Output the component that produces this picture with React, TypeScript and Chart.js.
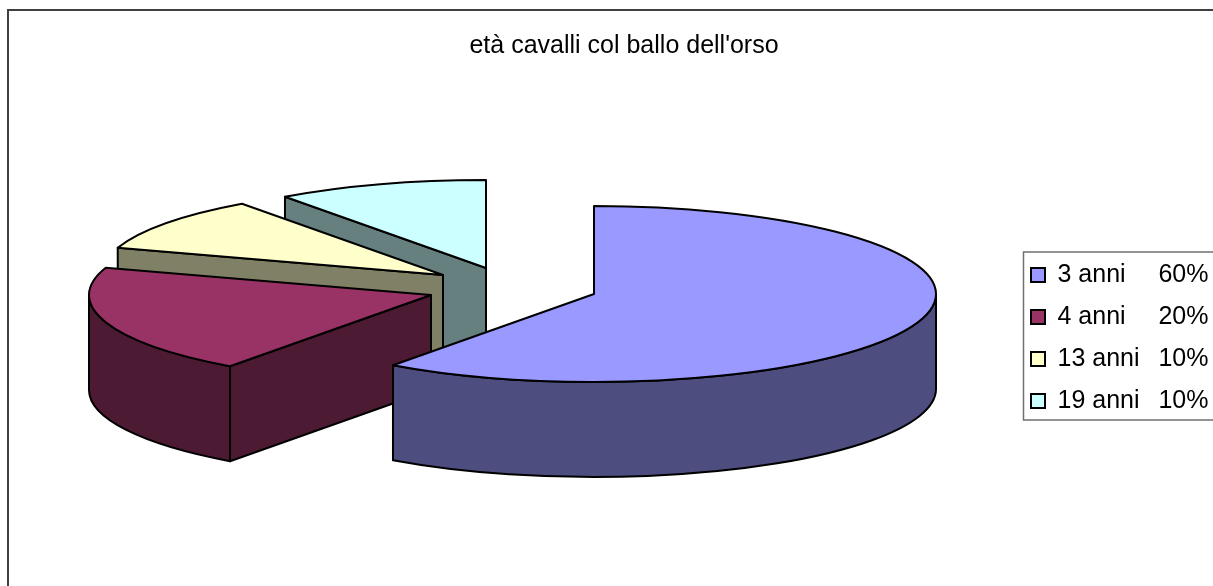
import React, { useEffect, useRef } from "react";
import { Chart, registerables } from "chart.js";

Chart.register(...registerables);

const TITLE = "età cavalli col ballo dell'orso";
const CATEGORIES = ["3 anni", "4 anni", "13 anni", "19 anni"];
const PERCENTS = [60, 20, 10, 10];
const LEGEND_GAPS = [4, 4, 2, 2];

const TOP_COLORS = ["#9999FF", "#993366", "#FFFFCC", "#CCFFFF"];
const WALL_COLORS = ["#4D4D80", "#4D1A33", "#808066", "#668080"];

const FONT = "'Liberation Sans', Arial, sans-serif";
const FONT_SIZE = 25;
const W = 1213;
const H = 586;

// 3D projection of the exploded pie
const RX = 342;
const RY = 88;
const DEPTH = 95;
const SLICE_CENTERS = [
  { x: 594, y: 294 },
  { x: 431, y: 295 },
  { x: 443, y: 275 },
  { x: 486, y: 268 },
];

const pie3d = {
  id: "pie3d",
  afterLayout(chart: any) {
    const t = chart.titleBlock;
    t.left = 9;
    t.right = 1239;
    t.top = 31;
    t.bottom = 61;
    const l = chart.legend;
    const pad = l.options.labels.padding;
    l.left = 1031 - pad;
    l.right = W + 40;
    l.top = 262.5 - pad;
    l.bottom = 440;
  },
  beforeDraw(chart: any) {
    const ctx = chart.ctx;
    ctx.save();
    ctx.fillStyle = "#fff";
    ctx.fillRect(0, 0, W, H);
    ctx.strokeStyle = "#404040";
    ctx.lineWidth = 2;
    ctx.strokeRect(8, 10, W + 40, H + 40);
    ctx.strokeStyle = "#707070";
    ctx.lineWidth = 1.5;
    ctx.strokeRect(1023.5, 252, W + 40 - 1023, 168);
    ctx.restore();
  },
  beforeDatasetDraw(chart: any) {
    const ctx = chart.ctx;
    const arcs = chart.getDatasetMeta(0).data;
    ctx.save();
    ctx.strokeStyle = "#000";
    ctx.lineWidth = 2;
    ctx.lineJoin = "round";
    const paint = (fill: string) => {
      ctx.fillStyle = fill;
      ctx.fill();
      ctx.stroke();
    };
    for (let i = arcs.length - 1; i >= 0; i--) {
      const { startAngle: s, endAngle: e } = arcs[i];
      const { x: cx, y: cy } = SLICE_CENTERS[i];
      const px = (a: number) => cx + RX * Math.cos(a);
      const py = (a: number) => cy + RY * Math.sin(a);
      const wall = WALL_COLORS[i];
      const face = (a: number) => {
        ctx.beginPath();
        ctx.moveTo(cx, cy);
        ctx.lineTo(px(a), py(a));
        ctx.lineTo(px(a), py(a) + DEPTH);
        ctx.lineTo(cx, cy + DEPTH);
        ctx.closePath();
        paint(wall);
      };
      if (Math.cos(s) < -1e-6) face(s);
      if (Math.cos(e) > 1e-6) face(e);
      const a0 = Math.max(s, 0);
      const a1 = Math.min(e, Math.PI);
      if (a1 > a0) {
        ctx.beginPath();
        ctx.ellipse(cx, cy, RX, RY, 0, a0, a1);
        ctx.lineTo(px(a1), py(a1) + DEPTH);
        ctx.ellipse(cx, cy + DEPTH, RX, RY, 0, a1, a0, true);
        ctx.closePath();
        paint(wall);
      }
      ctx.beginPath();
      ctx.moveTo(cx, cy);
      ctx.ellipse(cx, cy, RX, RY, 0, s, e);
      ctx.closePath();
      paint(arcs[i].options.backgroundColor);
    }
    ctx.restore();
    return false;
  },
};

export default function App() {
  const ref = useRef<HTMLCanvasElement>(null);
  useEffect(() => {
    document.body.style.margin = "0";
    const chart = new Chart(ref.current as HTMLCanvasElement, {
      type: "pie",
      data: {
        labels: CATEGORIES,
        datasets: [{ data: PERCENTS, backgroundColor: TOP_COLORS }],
      },
      plugins: [pie3d],
      options: {
        responsive: false,
        animation: false,
        plugins: {
          tooltip: { enabled: false },
          title: {
            display: true,
            text: TITLE,
            padding: 0,
            color: "#000",
            font: { family: FONT, size: FONT_SIZE, weight: "normal" },
          },
          legend: {
            position: "right",
            align: "start",
            labels: {
              padding: 17,
              boxWidth: 14,
              boxHeight: 14,
              color: "#000",
              font: { family: FONT, size: FONT_SIZE },
              generateLabels: () =>
                CATEGORIES.map((c, i) => ({
                  text: c + "\u00a0".repeat(LEGEND_GAPS[i]) + "\u2009" + PERCENTS[i] + "%",
                  fillStyle: TOP_COLORS[i],
                  strokeStyle: "#000",
                  lineWidth: 2,
                  index: i,
                })),
            },
          },
        },
      },
    } as any);
    return () => chart.destroy();
  }, []);
  return <canvas ref={ref} width={W} height={H} style={{ display: "block" }} />;
}
